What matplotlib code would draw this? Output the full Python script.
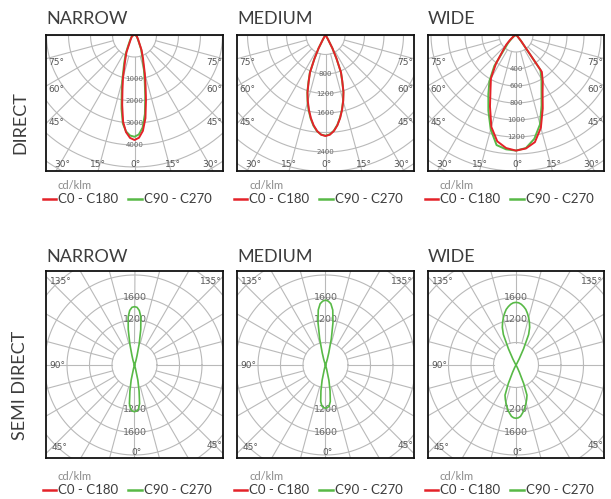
import numpy as np
import matplotlib.pyplot as plt

plt.rcParams['font.family'] = ['Lato', 'DejaVu Sans']

RED = '#e42229'
GREEN = '#58b947'
GRID = '#b9b9b9'
TXT = '#3d3d3d'

# DIRECT row: gamma from nadir (deg), intensities in cd/klm
# right half = C0 / C90, left half = C180 / C270
narrow_gamma = [0, 2.5, 5, 7.5, 10, 12.5, 15, 20, 25, 30, 40, 50, 60, 70, 80, 90]
narrow_c0 = [3818, 3740, 3500, 3050, 2400, 1850, 1450, 900, 610, 360, 200, 130, 100, 65, 30, 0]
narrow_c180 = [3818, 3745, 3545, 3180, 2580, 2020, 1620, 1000, 690, 400, 220, 145, 110, 75, 35, 0]
narrow_c90 = [3700, 3620, 3380, 2900, 2250, 1720, 1330, 820, 560, 330, 180, 120, 90, 60, 25, 0]
narrow_c270 = [3700, 3660, 3520, 3250, 2720, 2150, 1720, 1100, 760, 470, 250, 160, 120, 80, 40, 0]

medium_gamma = [0, 2.5, 5, 7.5, 10, 12.5, 15, 17.5, 20, 22.5, 25, 27.5, 30, 32.5, 35, 90]
medium_c0 = [2072, 2047, 1977, 1868, 1729, 1571, 1403, 1227, 1005, 831, 535, 308, 103, 31, 0, 0]
medium_c180 = [2072, 2047, 1977, 1868, 1729, 1571, 1403, 1227, 1005, 831, 535, 308, 103, 31, 0, 0]
medium_c90 = [2065, 2040, 1970, 1860, 1720, 1562, 1395, 1220, 1000, 826, 530, 305, 100, 30, 0, 0]
medium_c270 = [2065, 2045, 1982, 1880, 1745, 1590, 1420, 1240, 1020, 840, 540, 310, 104, 31, 0, 0]

wide_gamma = [0, 5, 10, 15, 20, 25, 30, 35, 40, 45, 50, 60, 70, 80, 90]
wide_c0 = [1360, 1340, 1280, 1130, 920, 740, 630, 530, 95, 35, 20, 10, 0, 0, 0]
wide_c180 = [1360, 1335, 1270, 1120, 895, 710, 590, 410, 240, 165, 95, 35, 10, 0, 0]
wide_c90 = [1360, 1335, 1240, 1090, 880, 710, 600, 500, 90, 30, 15, 5, 0, 0, 0]
wide_c270 = [1360, 1350, 1315, 1150, 950, 770, 625, 445, 200, 130, 70, 25, 0, 0, 0]

# SEMI DIRECT row: angle off the vertical axis, upper (up-light) and lower (down-light) lobes
semi_gamma = [0, 2.5, 5, 7.5, 10, 12.5, 15, 17.5, 20, 22.5, 25, 27.5, 30, 35]
semi_narrow_up = [1555, 1540, 1460, 1295, 960, 575, 265, 135, 55, 20, 0, 0, 0, 0]
semi_narrow_down = [1245, 1230, 1185, 1040, 705, 415, 105, 40, 0, 0, 0, 0, 0, 0]
semi_medium_up = [1730, 1705, 1640, 1480, 1150, 720, 340, 160, 60, 20, 0, 0, 0, 0]
semi_medium_down = [1150, 1140, 1100, 980, 700, 420, 130, 45, 0, 0, 0, 0, 0, 0]
semi_wide_up = [1670, 1660, 1625, 1570, 1505, 1410, 1305, 1190, 1065, 880, 480, 185, 55, 0]
semi_wide_down = [1420, 1410, 1375, 1300, 1225, 1130, 1040, 950, 855, 535, 215, 80, 0, 0]

col_titles = ['NARROW', 'MEDIUM', 'WIDE']
row_titles = ['DIRECT', 'SEMI DIRECT']
direct_ring_labels = [['1000', '2000', '3000', '4000'],
                      ['800', '1200', '1600', '2400'],
                      ['400', '600', '800', '1000', '1200']]
direct_label_rings = [[2, 3, 4, 5], [2, 3, 4, 6], [2, 3, 4, 5, 6]]
direct_ring_step = [800, 400, 200]
semi_ring_labels = ['1600', '1200', '1200', '1600']
semi_label_rings = [3, 2, -2, -3]
semi_ring_step = 600

W, H = 611, 499
fig = plt.figure(figsize=(W / 100, H / 100), dpi=100)


def px_axes(x0, y0, x1, y1):
    ax = fig.add_axes([x0 / W, 1 - y1 / H, (x1 - x0) / W, (y1 - y0) / H])
    ax.set_xticks([])
    ax.set_yticks([])
    for s in ax.spines.values():
        s.set_color('#111111')
        s.set_linewidth(1.3)
        s.set_zorder(10)
    return ax


def rings(ax, n, a_from, a_to):
    t = np.linspace(0, 2 * np.pi, 400)
    for k in range(1, n + 1):
        ax.plot(k * np.cos(t), k * np.sin(t), color=GRID, lw=0.8, zorder=1)
    for a in np.arange(a_from, a_to + 1, 15):
        s, c = np.sin(np.radians(a)), np.cos(np.radians(a))
        ax.plot([s, n * s], [-c, -n * c], color=GRID, lw=0.8, zorder=1)


def lbl(ax, x, y, s, ha):
    ax.text(x, y, s, transform=ax.transAxes, ha=ha, va='center', fontsize=6.5,
            color='#555555', family='DejaVu Sans', zorder=5)


def direct_curve(gamma, right, left, step):
    g = np.radians(np.r_[-np.array(gamma)[::-1], gamma])
    r = np.r_[np.array(left)[::-1], right] / step
    return r * np.sin(g), -r * np.cos(g)


def lobe(gamma, vals, step, up):
    g = np.radians(np.r_[-np.array(gamma)[::-1], gamma])
    r = np.r_[np.array(vals)[::-1], vals] / step
    sign = 1 if up else -1
    return r * np.sin(g), sign * r * np.cos(g)


def legend(x, y):
    fig.add_artist(plt.Line2D([(x - 3) / W, (x + 10) / W], [1 - y / H] * 2, color=RED, lw=1.8))
    fig.text((x + 12) / W, 1 - y / H, 'C0 - C180', fontsize=9.5, color=TXT, va='center')
    fig.add_artist(plt.Line2D([(x + 82) / W, (x + 96) / W], [1 - y / H] * 2, color=GREEN, lw=1.8))
    fig.text((x + 98) / W, 1 - y / H, 'C90 - C270', fontsize=9.5, color=TXT, va='center')
    fig.text((x + 12) / W, 1 - (y - 13) / H, 'cd/klm', fontsize=8, color='#8a8a8a', va='center')


top_boxes = [(46, 35, 223, 171), (237, 35, 414, 171), (428, 35, 604, 171)]
bottom_boxes = [(46, 271, 223, 458), (237, 271, 414, 458), (428, 271, 604, 458)]
ring_px_top = [22, 19.5, 17]
ring_px_bottom = 22.5

direct_data = [
    (narrow_gamma, narrow_c0, narrow_c180, narrow_c90, narrow_c270),
    (medium_gamma, medium_c0, medium_c180, medium_c90, medium_c270),
    (wide_gamma, wide_c0, wide_c180, wide_c90, wide_c270),
]
semi_data = [
    (semi_narrow_up, semi_narrow_down),
    (semi_medium_up, semi_medium_down),
    (semi_wide_up, semi_wide_down),
]

for i in range(3):
    # DIRECT
    x0, y0, x1, y1 = top_boxes[i]
    rp = ring_px_top[i]
    ax = px_axes(*top_boxes[i])
    ax.set_xlim(-(x1 - x0) / 2 / rp, (x1 - x0) / 2 / rp)
    ax.set_ylim(-(y1 - y0) / rp, 0)
    rings(ax, 14, -90, 90)
    for k, s in zip(direct_label_rings[i], direct_ring_labels[i]):
        ax.text(0, -k, s, ha='center', va='center', fontsize=5, color='#666666',
                family='DejaVu Sans', zorder=3)
    gamma, c0, c180, c90, c270 = direct_data[i]
    step = direct_ring_step[i]
    gx, gy = direct_curve(gamma, c90, c270, step)
    ax.plot(gx, gy, color=GREEN, lw=1.4, zorder=4)
    rx, ry = direct_curve(gamma, c0, c180, step)
    ax.plot(rx, ry, color=RED, lw=1.4, zorder=4)
    for s, y in [('75°', 0.80), ('60°', 0.60), ('45°', 0.36)]:
        lbl(ax, 0.012, y, s, 'left')
        lbl(ax, 0.995, y, s, 'right')
    for s, x in [('30°', 0.09), ('15°', 0.294), ('0°', 0.508), ('15°', 0.717), ('30°', 0.927)]:
        lbl(ax, x, 0.05, s, 'center')
    fig.text(x0 / W, 1 - 18.5 / H, col_titles[i], fontsize=13, color=TXT, va='center')
    legend(x0, 199)

    # SEMI DIRECT
    x0, y0, x1, y1 = bottom_boxes[i]
    ax = px_axes(*bottom_boxes[i])
    cy = 365
    ax.set_xlim(-(x1 - x0) / 2 / ring_px_bottom, (x1 - x0) / 2 / ring_px_bottom)
    ax.set_ylim(-(y1 - cy) / ring_px_bottom, (cy - y0) / ring_px_bottom)
    rings(ax, 8, 0, 345)
    for k, s in zip(semi_label_rings, semi_ring_labels):
        ax.text(0, k, s, ha='center', va='center', fontsize=6.8, color='#666666',
                family='DejaVu Sans', zorder=3)
    up, down = semi_data[i]
    ux, uy = lobe(semi_gamma, up, semi_ring_step, True)
    dx, dy = lobe(semi_gamma, down, semi_ring_step, False)
    ax.plot(ux, uy, color=GREEN, lw=1.2, zorder=4)
    ax.plot(dx, dy, color=GREEN, lw=1.2, zorder=4)
    lbl(ax, 0.02, 0.946, '135°', 'left')
    lbl(ax, 0.995, 0.946, '135°', 'right')
    lbl(ax, 0.02, 0.497, '90°', 'left')
    lbl(ax, 0.03, 0.055, '45°', 'left')
    lbl(ax, 0.995, 0.066, '45°', 'right')
    lbl(ax, 0.51, 0.027, '0°', 'center')
    fig.text(x0 / W, 1 - 256.5 / H, col_titles[i], fontsize=13, color=TXT, va='center')
    legend(x0, 490)

fig.text(20 / W, 1 - 123 / H, row_titles[0], rotation=90, fontsize=13, color=TXT,
         ha='center', va='center')
fig.text(20 / W, 1 - 385 / H, row_titles[1], rotation=90, fontsize=13, color=TXT,
         ha='center', va='center')

fig.savefig('out.png', dpi=100)
